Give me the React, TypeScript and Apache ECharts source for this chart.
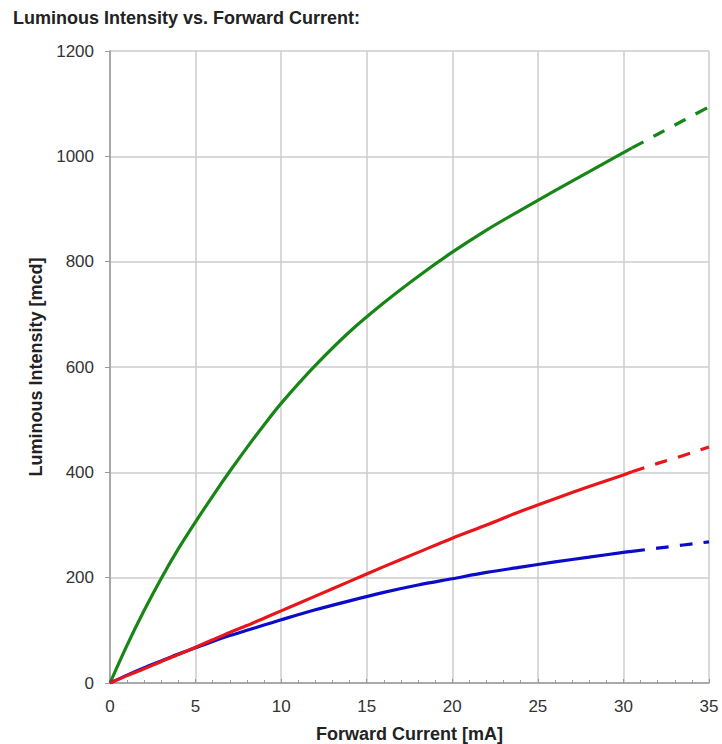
import React, { useEffect, useRef } from "react";
import * as echarts from "echarts";

const titleText = "Luminous Intensity vs. Forward Current:";
const xAxisName = "Forward Current [mA]";
const yAxisName = "Luminous Intensity [mcd]";

// Forward current [mA] for the measured (solid) part
const currentSolid = [0, 1, 2, 3, 4, 5, 6, 7, 8, 9, 10, 12, 14, 16, 18, 20, 22, 24, 26, 28, 30, 30.5];
const greenSolid = [0, 72, 138, 199, 255, 306, 355, 402, 447, 490, 531, 603, 667, 722, 772, 818, 860, 898, 935, 971, 1007, 1016];
const redSolid = [0, 14, 27, 41, 54, 68, 82, 96, 109, 123, 137, 165, 193, 221, 248, 275, 300, 326, 350, 373, 395, 401];
const blueSolid = [0, 15, 29, 42, 55, 67, 79, 90, 100, 110, 120, 139, 156, 172, 186, 198, 210, 220, 230, 239, 248, 250];

// Extrapolated (dashed) part
const currentDashed = [30.5, 32, 33.5, 35];
const greenDashed = [1016, 1042, 1068, 1094];
const redDashed = [401, 417, 432, 448];
const blueDashed = [250, 256, 262, 268];

const yTickLabels = ["0", "200", "400", "600", "800", "1000", "1200"];

const GREEN = "#178617";
const RED = "#e8161b";
const BLUE = "#0c0cc8";

const pairs = (xs: number[], ys: number[]) => xs.map((x, i) => [x, ys[i]]);

export default function App() {
  const ref = useRef<HTMLDivElement>(null);
  useEffect(() => {
    if (!ref.current) return;
    const chart = echarts.init(ref.current, null, { renderer: "svg" });
    const lineSeries = (data: number[][], color: string, dashed: boolean, z: number) => ({
      type: "line",
      data,
      smooth: 0.3,
      showSymbol: false,
      symbol: "none",
      z,
      lineStyle: { color, width: 3.2, type: dashed ? [13, 11] : "solid" },
    });
    chart.setOption({
      animation: false,
      backgroundColor: "#ffffff",
      graphic: [
        {
          type: "text",
          left: 13,
          top: 9,
          style: {
            text: titleText,
            fontFamily: "Liberation Sans, Arial, sans-serif",
            fontWeight: "bold",
            fontSize: 18,
            fill: "#222222",
          },
        },
      ],
      grid: { left: 110, right: 13, top: 51, bottom: 61, containLabel: false, outerBoundsMode: "none" },
      xAxis: {
        type: "value",
        min: 0,
        max: 35,
        interval: 5,
        name: xAxisName,
        nameLocation: "middle",
        nameGap: 42,
        nameTextStyle: {
          fontFamily: "Liberation Sans, Arial, sans-serif",
          fontWeight: "bold",
          fontSize: 18,
          color: "#222222",
        },
        axisLine: { show: true, lineStyle: { color: "#999999", width: 1.5 } },
        axisTick: { show: true, inside: true, length: 4, lineStyle: { color: "#999999" } },
        minorTick: { show: true, splitNumber: 5, length: 3, lineStyle: { color: "#999999" } },
        axisLabel: {
          margin: 15,
          fontFamily: "Liberation Sans, Arial, sans-serif",
          fontSize: 17,
          color: "#333333",
        },
        splitLine: { show: true, lineStyle: { color: "#cccccc", width: 1.5 } },
      },
      yAxis: {
        type: "value",
        min: 0,
        max: 1200,
        interval: 200,
        name: yAxisName,
        nameLocation: "middle",
        nameGap: 40,
        nameTextStyle: {
          fontFamily: "Liberation Sans, Arial, sans-serif",
          fontWeight: "bold",
          fontSize: 18,
          color: "#222222",
        },
        axisLine: { show: true, lineStyle: { color: "#999999", width: 1.5 } },
        axisTick: { show: true, inside: false, length: 5, lineStyle: { color: "#999999" } },
        axisLabel: {
          margin: 16,
          fontFamily: "Liberation Sans, Arial, sans-serif",
          fontSize: 17,
          color: "#333333",
          formatter: (v: number) => yTickLabels[Math.round(v / 200)] ?? String(v),
        },
        splitLine: { show: true, lineStyle: { color: "#cccccc", width: 1.5 } },
      },
      series: [
        lineSeries(pairs(currentSolid, greenSolid), GREEN, false, 2),
        lineSeries(pairs(currentDashed, greenDashed), GREEN, true, 2),
        lineSeries(pairs(currentSolid, blueSolid), BLUE, false, 3),
        lineSeries(pairs(currentDashed, blueDashed), BLUE, true, 3),
        lineSeries(pairs(currentSolid, redSolid), RED, false, 4),
        lineSeries(pairs(currentDashed, redDashed), RED, true, 4),
      ],
    });
    return () => chart.dispose();
  }, []);
  return (
    <div
      ref={ref}
      style={{ position: "fixed", left: 0, top: 0, width: 722, height: 744, background: "#fff" }}
    />
  );
}
